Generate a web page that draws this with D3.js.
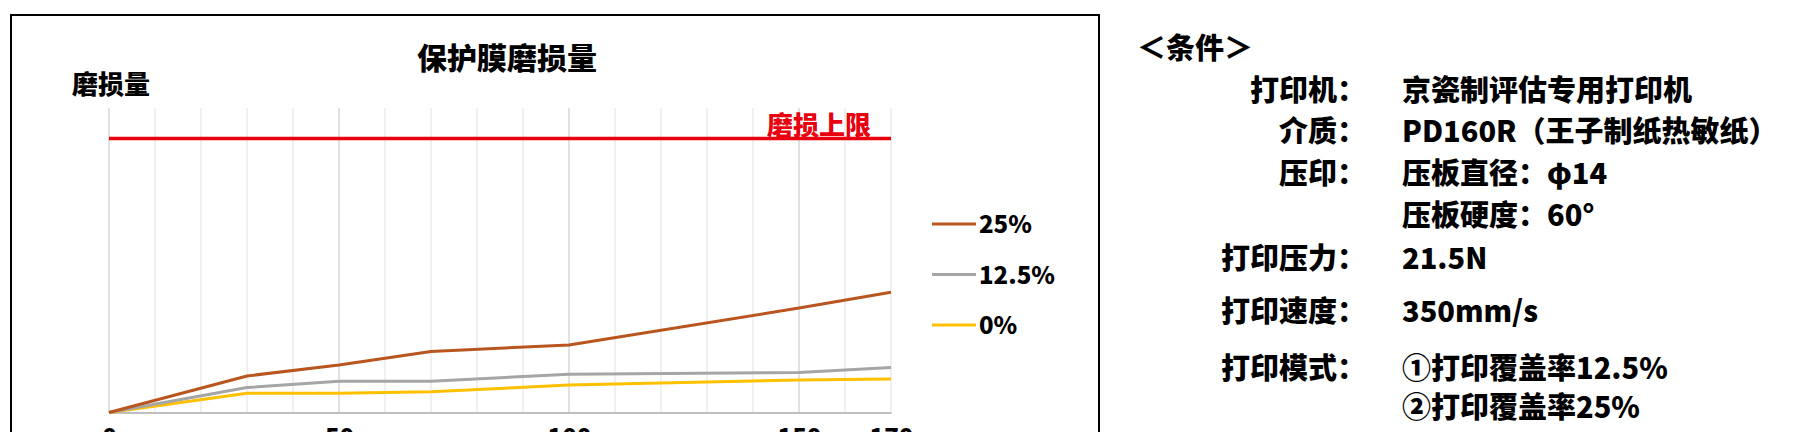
<!DOCTYPE html>
<html>
  <head>
    <meta charset="utf-8">
    <title>保护膜磨损量</title>
    <style>
      body { margin: 0; background: #fff; }
      text { font-family: "Noto Sans CJK SC", "Noto Sans", sans-serif; font-weight: 900; }
    </style>
  </head>
  <body>
    <script src="https://d3js.org/d3.v7.min.js"></script>
    <script>
      // data (wear amount, arbitrary units)
      const runs = [0, 30, 50, 70, 100, 150, 170];
      const wear25 = [0, 1.20, 1.56, 2.00, 2.22, 3.43, 3.95];
      const wear125 = [0, 0.82, 1.03, 1.03, 1.26, 1.31, 1.48];
      const wear0 = [0, 0.63, 0.63, 0.68, 0.90, 1.07, 1.10];
      const wearLimit = 9;
      const xTicks = [0, 50, 100, 150, 170];
      const seriesNames = ["25%", "12.5%", "0%"];
      const seriesColors = ["#B9561F", "#A5A5A5", "#FFC000"];
      const condLabels = ["打印机：", "介质：", "压印：", "", "打印压力：", "打印速度：", "打印模式：", ""];
      const condValues = ["京瓷制评估专用打印机", "PD160R（王子制纸热敏纸）", "压板直径：φ14", "压板硬度：60°",
        "21.5N", "350mm/s", "①打印覆盖率12.5%", "②打印覆盖率25%"];
      const condRowY = [90, 131, 173, 215, 258, 311, 368, 407];

      const svg = d3.select("body").append("svg")
        .attr("width", 1808)
        .attr("height", 432);

      // chart frame
      svg.append("rect")
        .attr("x", 11).attr("y", 15)
        .attr("width", 1088).attr("height", 440)
        .attr("fill", "none")
        .attr("stroke", "#000")
        .attr("stroke-width", 2);

      const x = d3.scaleLinear().domain([0, 170]).range([109, 891]);
      const y = d3.scaleLinear().domain([0, 10]).range([412.5, 108]);

      // vertical gridlines every 10
      const grid = d3.range(0, 171, 10);
      svg.append("g").selectAll("line")
        .data(grid)
        .join("line")
        .attr("x1", d => x(d)).attr("x2", d => x(d))
        .attr("y1", y(10)).attr("y2", y(0))
        .attr("stroke", d => (d % 50 === 0 ? "#D2D2D2" : "#E8E8E8"))
        .attr("stroke-width", 1.3);

      // x axis
      const xAxis = d3.axisBottom(x).tickValues(xTicks).tickSize(0).tickPadding(16);
      const gx = svg.append("g")
        .attr("transform", `translate(0,${y(0)})`)
        .call(xAxis);
      gx.select(".domain").attr("stroke", "#BFBFBF").attr("stroke-width", 2);
      gx.selectAll("text")
        .attr("font-size", 24)
        .attr("font-family", "'Noto Sans CJK SC', sans-serif")
        .attr("font-weight", 900)
        .attr("fill", "#000");

      const line = d3.line().x((d, i) => x(runs[i])).y(d => y(d));

      // wear limit line
      svg.append("path")
        .attr("d", d3.line().x(d => x(d)).y(() => y(wearLimit))([0, 170]))
        .attr("fill", "none")
        .attr("stroke", "#E8000E")
        .attr("stroke-width", 3.5);
      svg.append("text")
        .attr("x", 767).attr("y", 135)
        .attr("font-size", 26)
        .attr("fill", "#E8000E")
        .text("磨损上限");

      // series (draw 0% first so 25% sits on top)
      const series = [wear25, wear125, wear0];
      [2, 1, 0].forEach(i => {
        svg.append("path")
          .attr("d", line(series[i]))
          .attr("fill", "none")
          .attr("stroke", seriesColors[i])
          .attr("stroke-width", 3)
          .attr("stroke-linejoin", "round");
      });

      // titles
      svg.append("text")
        .attr("x", 507).attr("y", 69)
        .attr("text-anchor", "middle")
        .attr("font-size", 30)
        .text("保护膜磨损量");
      svg.append("text")
        .attr("x", 72).attr("y", 94)
        .attr("font-size", 26)
        .text("磨损量");

      // legend
      const legend = svg.append("g").selectAll("g")
        .data(seriesNames)
        .join("g")
        .attr("transform", (d, i) => `translate(932,${224 + i * 50.5})`);
      legend.append("line")
        .attr("x1", 0).attr("x2", 44)
        .attr("stroke", (d, i) => seriesColors[i])
        .attr("stroke-width", 3);
      legend.append("text")
        .attr("x", 47).attr("y", 9)
        .attr("font-size", 24)
        .text(d => d);

      // conditions block
      svg.append("text")
        .attr("x", 1137).attr("y", 59)
        .attr("font-size", 29)
        .text("＜条件＞");
      const cond = svg.append("g");
      cond.selectAll("text.lab")
        .data(condLabels)
        .join("text")
        .attr("class", "lab")
        .attr("x", 1366)
        .attr("y", (d, i) => condRowY[i] + 11)
        .attr("text-anchor", "end")
        .attr("font-size", 29)
        .text(d => d);
      cond.selectAll("text.val")
        .data(condValues)
        .join("text")
        .attr("class", "val")
        .attr("x", 1402)
        .attr("y", (d, i) => condRowY[i] + 11)
        .attr("font-size", 29)
        .text(d => d);
    </script>
  </body>
</html>
